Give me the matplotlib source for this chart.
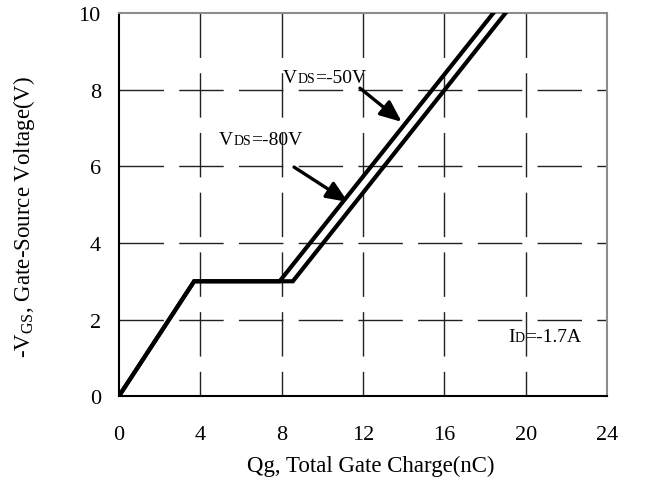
import matplotlib
matplotlib.use("Agg")
import matplotlib.pyplot as plt
from matplotlib.offsetbox import TextArea, HPacker, AnnotationBbox

# Gate charge curves
qg_50v = [0.0, 3.7, 7.9, 18.4]
vgs_50v = [0.0, 3.0, 3.0, 10.0]
qg_80v = [0.0, 3.7, 8.55, 19.0]
vgs_80v = [0.0, 3.0, 3.0, 10.0]

x_ticks = [0, 4, 8, 12, 16, 20, 24]
y_ticks = [0, 2, 4, 6, 8, 10]

plt.rcParams["font.family"] = ["Liberation Serif", "DejaVu Serif"]
plt.rcParams["mathtext.fontset"] = "custom"
plt.rcParams["mathtext.rm"] = "Liberation Serif"


def small_caps_label(ax, xy, main, sub, rest):
    """Text like V_DS=-50V with the subscript sitting on the baseline."""
    parts = [
        TextArea(main, textprops=dict(fontsize=14)),
        TextArea(sub, textprops=dict(fontsize=10)),
        TextArea(rest, textprops=dict(fontsize=14)),
    ]
    box = HPacker(children=parts, align="baseline", pad=0, sep=0)
    ab = AnnotationBbox(box, xy, xycoords="data", box_alignment=(0, 0.5),
                        frameon=False, pad=0)
    ax.add_artist(ab)


fig = plt.figure(figsize=(6.46, 4.85), dpi=100)
ax = fig.add_axes([0.184, 0.181, 0.756, 0.790])
ax.set_xlim(0, 24)
ax.set_ylim(0, 10)

# dashed grid, drawn top-down / left-right like the original
grid_style = dict(color="#222222", linewidth=1.0, linestyle=(0, (32, 11)), zorder=1)
for x in x_ticks[1:-1]:
    ax.plot([x, x], [10, 0], **grid_style)
for y in y_ticks[1:-1]:
    ax.plot([0, 24], [y, y], **grid_style)

ax.plot(qg_80v, vgs_80v, color="black", linewidth=3.0, solid_joinstyle="miter", zorder=3)
ax.plot(qg_50v, vgs_50v, color="black", linewidth=3.0, solid_joinstyle="miter", zorder=3)

arrow = dict(arrowstyle="-|>,head_length=1.3,head_width=0.55", color="black",
             linewidth=2.4, shrinkA=0, shrinkB=0)
ax.annotate("", xy=(13.9, 7.16), xytext=(11.85, 8.04), arrowprops=arrow, zorder=4)
ax.annotate("", xy=(11.26, 5.07), xytext=(8.61, 5.98), arrowprops=arrow, zorder=4)

small_caps_label(ax, (8.07, 8.33), "V", "DS", "=-50V")
small_caps_label(ax, (4.92, 6.71), "V", "DS", "=-80V")
small_caps_label(ax, (19.13, 1.57), "I", "D", "=-1.7A")

ax.set_xticks(x_ticks)
ax.set_yticks(y_ticks)
ax.tick_params(axis="x", length=0, pad=21, labelsize=16)
ax.tick_params(axis="y", length=0, pad=13, labelsize=16)

for side in ["left", "bottom"]:
    ax.spines[side].set_color("black")
    ax.spines[side].set_linewidth(1.5)
for side in ["top", "right"]:
    ax.spines[side].set_color("#8c8c8c")
    ax.spines[side].set_linewidth(1.5)

ax.set_xlabel("Qg, Total Gate Charge(nC)", fontsize=16.5)
ax.set_ylabel(r"-V$_{\mathregular{GS}}$, Gate-Source Voltage(V)", fontsize=16.5)
ax.xaxis.set_label_coords(0.516, -0.152)
ax.yaxis.set_label_coords(-0.168, 0.47)

fig.savefig("out.png", dpi=100)
